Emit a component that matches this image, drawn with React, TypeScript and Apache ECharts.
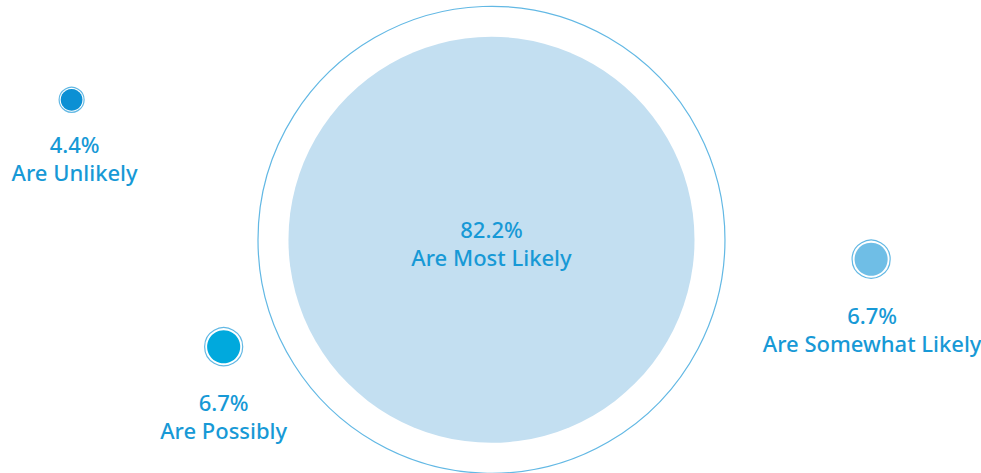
import React, { useEffect, useRef } from "react";
import * as echarts from "echarts";

const categories = ["Are Unlikely", "Are Possibly", "Are Most Likely", "Are Somewhat Likely"];
const shares = [4.4, 6.7, 82.2, 6.7];
const xPos = [7.3, 22.8, 50.1, 88.8];
const yPos = [21.1, 73.3, 50.7, 54.8];
const fills = ["#0b90d4", "#00a9dd", "#c3dff1", "#6fbee6"];
const labelDist = [19, 25, 0, 25];
const labelShiftX = [3, 0, 0, 1];

const K = 2.47; // px of radius per percentage point
const RING = 1.15;

export default function App() {
  const ref = useRef<HTMLDivElement>(null);
  useEffect(() => {
    document.body.style.margin = "0";
    const chart = echarts.init(ref.current!, null, { renderer: "svg" });
    const font = "'Noto Sans', sans-serif";
    const ringData = categories.map((c, i) => ({ name: c, value: [xPos[i], yPos[i], shares[i]] }));
    const fillData = categories.map((c, i) => {
      const main = i === 2;
      return {
        name: c,
        value: [xPos[i], yPos[i], shares[i]],
        itemStyle: { color: fills[i] },
        label: main
          ? { position: "inside", offset: [0, 3] }
          : { position: "bottom", distance: labelDist[i], offset: [labelShiftX[i], 0] },
      };
    });
    chart.setOption({
      animation: false,
      grid: { left: 0, right: 0, top: 0, bottom: 0 },
      xAxis: { type: "value", min: 0, max: 100, show: false },
      yAxis: { type: "value", min: 0, max: 100, inverse: true, show: false },
      series: [
        {
          type: "scatter",
          data: ringData,
          symbolSize: (v: number[]) => 2 * K * v[2] * RING,
          itemStyle: { color: "#ffffff", borderColor: "#62b8e4", borderWidth: 1.2, opacity: 1 },
          silent: true,
          z: 1,
        },
        {
          type: "scatter",
          data: fillData,
          symbolSize: (v: number[]) => 2 * K * v[2],
          itemStyle: { opacity: 1 },
          z: 2,
          label: {
            show: true,
            color: "#1799d6",
            fontFamily: font,
            fontSize: 22,
            fontWeight: 500,
            lineHeight: 28,
            align: "center",
            formatter: (p: any) => `${p.value[2]}%\n${p.name}`,
          },
        },
      ],
    });
    return () => chart.dispose();
  }, []);
  return <div ref={ref} style={{ width: 981, height: 473 }} />;
}
